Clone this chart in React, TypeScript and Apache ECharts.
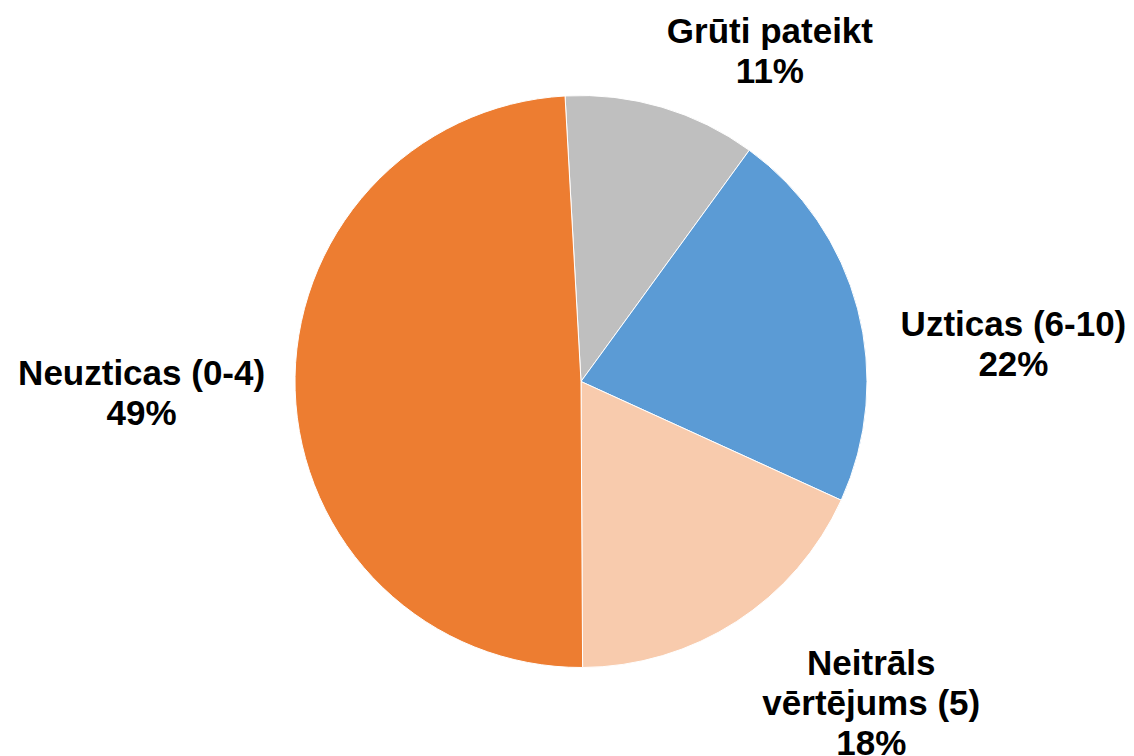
import React, { useEffect, useRef } from "react";
import * as echarts from "echarts";

const categories = ["Grūti pateikt", "Uzticas (6-10)", "Neitrāls\nvērtējums (5)", "Neuzticas (0-4)"];
const shares = [10.9, 21.8, 18.1, 49.2];
const colors = ["#BFBFBF", "#5B9BD5", "#F8CBAD", "#ED7D31"];
// label nudges (dx, dy) per slice, styling only
const labelShiftX = [0, 38, 21, -25];
const labelShiftY = [-57, 35, 81, 2];

export default function App() {
  const ref = useRef<HTMLDivElement>(null);
  useEffect(() => {
    document.body.style.margin = "0";
    const chart = echarts.init(ref.current!, null, { renderer: "svg" });
    chart.setOption({
      animation: false,
      backgroundColor: "#ffffff",
      series: [
        {
          type: "pie",
          center: [581, 381.5],
          radius: 286,
          startAngle: 93.2,
          clockwise: true,
          avoidLabelOverlap: false,
          itemStyle: { borderColor: "#ffffff", borderWidth: 1 },
          emphasis: { disabled: true },
          labelLine: { show: false, length: 0, length2: 0 },
          label: {
            show: true,
            position: "outside",
            distanceToLabelLine: 5,
            formatter: (p: any) => {
              const lines = String(p.name).split("\n").map((s: string) => `{t|${s}}`);
              lines.push(`{t|${Math.round(p.percent)}%}`);
              return lines.join("\n");
            },
            rich: {
              t: {
                fontFamily: "Liberation Sans, Arial, sans-serif",
                fontWeight: "bold",
                fontSize: 35,
                lineHeight: 40,
                color: "#000000",
                align: "center",
              },
            },
          },
          labelLayout: (params: any) => ({
            dx: labelShiftX[params.dataIndex],
            dy: labelShiftY[params.dataIndex],
          }),
          data: categories.map((name, i) => ({
            name,
            value: shares[i],
            itemStyle: { color: colors[i] },
          })),
        },
      ],
    });
    return () => chart.dispose();
  }, []);
  return <div ref={ref} style={{ width: 1134, height: 756 }} />;
}
